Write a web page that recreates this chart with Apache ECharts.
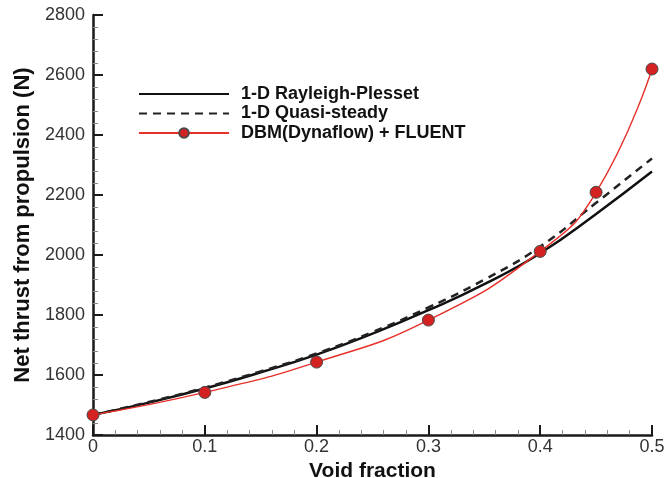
<!DOCTYPE html>
<html>
<head>
<meta charset="utf-8">
<script src="https://cdn.jsdelivr.net/npm/echarts@6/dist/echarts.min.js"></script>
<style>html,body{margin:0;padding:0;background:#fff;}#c{width:668px;height:478px;}</style>
</head>
<body>
<div id="c"></div>
<script>
// Data
var modelX = [0, 0.05, 0.1, 0.15, 0.2, 0.25, 0.3, 0.35, 0.4, 0.45, 0.5];
var rayleighPlesset = [1467, 1508, 1555, 1609, 1668, 1738, 1816, 1903, 2006, 2137, 2278];
var quasiSteady = [1467, 1510, 1558, 1612, 1672, 1743, 1825, 1918, 2028, 2174, 2322];
var cfdX = [0, 0.1, 0.2, 0.3, 0.4, 0.45, 0.5];
var dbmFluent = [1467, 1542, 1643, 1783, 2012, 2209, 2620];
var seriesNames = ['1-D Rayleigh-Plesset', '1-D Quasi-steady', 'DBM(Dynaflow) + FLUENT'];
var xTitle = 'Void fraction';
var yTitle = 'Net thrust from propulsion (N)';

function pairs(xs, ys) { return xs.map(function (x, i) { return [x, ys[i]]; }); }

var FONT = 'Liberation Sans, Arial, Helvetica, sans-serif';
var chart = echarts.init(document.getElementById('c'), null, {renderer: 'canvas'});
chart.setOption({
  animation: false,
  backgroundColor: '#ffffff',
  grid: {left: 93, right: 16, top: 15, bottom: 43, containLabel: false, outerBoundsMode: 'none'},
  legend: {
    orient: 'vertical',
    left: 133,
    top: 80,
    itemWidth: 90,
    itemHeight: 12,
    itemGap: 1.5,
    textStyle: {fontFamily: FONT, fontWeight: 'bold', fontSize: 18, color: '#111', lineHeight: 18, padding: [0, 0, 0, 7]},
    data: [
      {name: seriesNames[0], itemStyle: {opacity: 0}},
      {name: seriesNames[1], itemStyle: {opacity: 0}},
      {name: seriesNames[2]}
    ]
  },
  xAxis: {
    type: 'value', min: 0, max: 0.5, interval: 0.1,
    name: xTitle, nameLocation: 'middle', nameGap: 13,
    nameTextStyle: {fontFamily: FONT, fontWeight: 'bold', fontSize: 21, color: '#111'},
    axisLine: {show: true, lineStyle: {color: '#1a1a1a', width: 2.5}},
    axisTick: {show: true, inside: true, length: 10, lineStyle: {color: '#1a1a1a', width: 2}},
    minorTick: {show: true, splitNumber: 5, length: 5, lineStyle: {color: '#888', width: 1}},
    axisLabel: {fontFamily: FONT, fontSize: 18, color: '#333', margin: 3},
    splitLine: {show: false}
  },
  yAxis: {
    type: 'value', min: 1400, max: 2800, interval: 200,
    name: yTitle, nameLocation: 'middle', nameGap: 56, nameRotate: 90,
    nameTextStyle: {fontFamily: FONT, fontWeight: 'bold', fontSize: 22, color: '#111'},
    axisLine: {show: true, lineStyle: {color: '#1a1a1a', width: 2.5}},
    axisTick: {show: true, inside: true, length: 10, lineStyle: {color: '#1a1a1a', width: 2}},
    minorTick: {show: true, splitNumber: 5, length: 5, lineStyle: {color: '#888', width: 1}},
    axisLabel: {fontFamily: FONT, fontSize: 18, color: '#333', margin: 8, formatter: function (v) { return String(v); }},
    splitLine: {show: false}
  },
  series: [
    {
      name: seriesNames[0], type: 'line', smooth: true, showSymbol: false, symbol: 'none',
      data: pairs(modelX, rayleighPlesset),
      lineStyle: {color: '#111', width: 2.5},
      itemStyle: {color: '#111'}, z: 2
    },
    {
      name: seriesNames[1], type: 'line', smooth: true, showSymbol: false, symbol: 'none',
      data: pairs(modelX, quasiSteady),
      lineStyle: {color: '#222', width: 2.5, type: [8, 6]},
      itemStyle: {color: '#222'}, z: 2
    },
    {
      name: seriesNames[2], type: 'line', smooth: 0.5,
      data: pairs(cfdX, dbmFluent),
      symbol: 'circle', symbolSize: 12,
      lineStyle: {color: '#e8302a', width: 1.4},
      itemStyle: {color: '#d42222', borderColor: '#4a4a4a', borderWidth: 1},
      z: 3
    }
  ]
});
</script>
</body>
</html>
